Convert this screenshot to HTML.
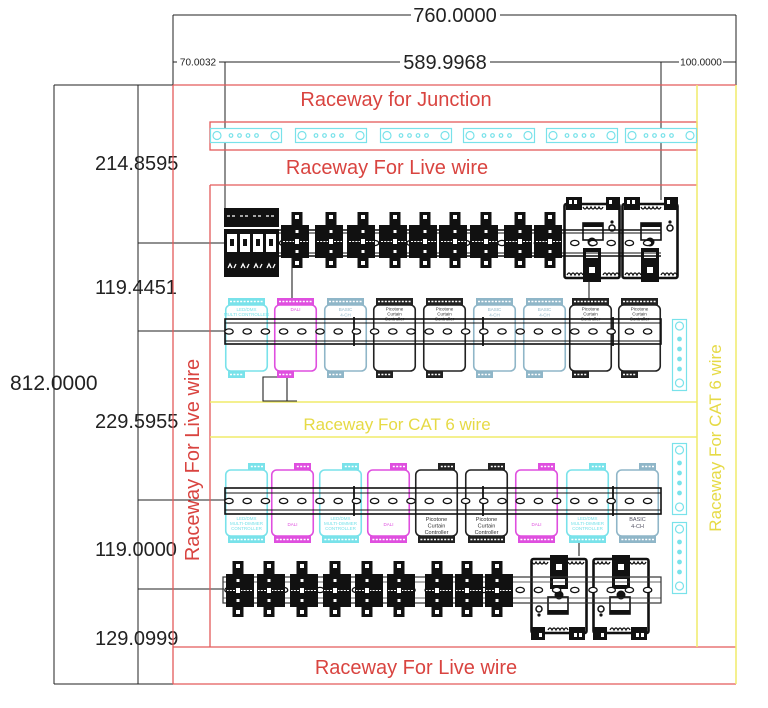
<!DOCTYPE html>
<html><head><meta charset="utf-8">
<style>
html,body{margin:0;padding:0;background:#fff;}
svg{display:block;}
text{font-family:"Liberation Sans",Arial,sans-serif;}
</style></head><body>
<svg width="768" height="708" viewBox="0 0 768 708" xmlns="http://www.w3.org/2000/svg">
<defs>
 <g id="brk">
  <rect x="-5.5" y="0" width="11" height="56" fill="#111"/>
  <rect x="-16" y="13" width="28" height="33" fill="#111"/>
  <rect x="-2" y="3" width="4" height="4" fill="#fff"/>
  <rect x="-2" y="49" width="4" height="4" fill="#fff"/>
  <rect x="-1.5" y="18" width="3" height="3" fill="#fff"/>
  <rect x="-1.5" y="38" width="3" height="3" fill="#fff"/>
  <path d="M-14 29.5h11M3 29.5h8" stroke="#fff" stroke-width="1" stroke-dasharray="2 1.2"/>
  <rect x="-2" y="27" width="4" height="5" fill="#fff"/>
 </g>
 <g id="psu">
  <rect x="1.5" y="7" width="55" height="74" rx="2" fill="#fff" stroke="#111" stroke-width="2.6"/>
  <rect x="3" y="0" width="16" height="13" fill="#111"/>
  <rect x="43" y="0" width="14" height="13" fill="#111"/>
  <rect x="6" y="3" width="3" height="4" fill="#fff"/>
  <rect x="11" y="3" width="3" height="4" fill="#fff"/>
  <rect x="46" y="3" width="3" height="4" fill="#fff"/>
  <path d="M20 10q2 4 4 0q2 4 4 0q2 4 4 0q2 4 4 0q2 4 4 0" fill="none" stroke="#111" stroke-width="1.3"/>
  <circle cx="49" cy="25" r="1.6" fill="#111"/>
  <circle cx="49" cy="31" r="3" fill="none" stroke="#111" stroke-width="1.5"/>
  <rect x="20" y="26" width="20" height="17" fill="#fff" stroke="#111" stroke-width="1.6"/>
  <rect x="20" y="26" width="20" height="4" fill="#111"/>
  <circle cx="29" cy="45" r="4.5" fill="#111"/>
  <rect x="20" y="51" width="18" height="34" fill="#111"/>
  <rect x="23" y="55" width="12" height="6" fill="#fff"/>
  <rect x="26" y="70" width="6" height="6" fill="#fff"/>
  <path d="M4 78q2 -4 4 0q2 -4 4 0q2 -4 4 0q2 -4 4 0M40 78q2 -4 4 0q2 -4 4 0q2 -4 4 0q2 -4 4 0" fill="none" stroke="#111" stroke-width="1.3"/>
 </g>
 <g id="mod">
  <rect x="0.75" y="7" width="41.5" height="66" rx="5" fill="#fff" stroke="currentColor" stroke-width="1.6"/>
  <rect x="3" y="0" width="37" height="7" fill="currentColor"/>
  <path d="M5 3.5h33" stroke="#fff" stroke-width="1.4" stroke-dasharray="2 1.4"/>
  <rect x="3" y="73" width="17" height="7" fill="currentColor"/>
  <path d="M5 76.5h13" stroke="#fff" stroke-width="1.4" stroke-dasharray="2 1.4"/>
 </g>
 <g id="ovals" fill="#fff" stroke="#111" stroke-width="1.3">
  <ellipse cx="229" cy="0" rx="4.2" ry="2.6"/><ellipse cx="247.2" cy="0" rx="4.2" ry="2.6"/>
  <ellipse cx="265.4" cy="0" rx="4.2" ry="2.6"/><ellipse cx="283.6" cy="0" rx="4.2" ry="2.6"/>
  <ellipse cx="301.8" cy="0" rx="4.2" ry="2.6"/><ellipse cx="320" cy="0" rx="4.2" ry="2.6"/>
  <ellipse cx="338.2" cy="0" rx="4.2" ry="2.6"/><ellipse cx="356.4" cy="0" rx="4.2" ry="2.6"/>
  <ellipse cx="374.6" cy="0" rx="4.2" ry="2.6"/><ellipse cx="392.8" cy="0" rx="4.2" ry="2.6"/>
  <ellipse cx="411" cy="0" rx="4.2" ry="2.6"/><ellipse cx="429.2" cy="0" rx="4.2" ry="2.6"/>
  <ellipse cx="447.4" cy="0" rx="4.2" ry="2.6"/><ellipse cx="465.6" cy="0" rx="4.2" ry="2.6"/>
  <ellipse cx="483.8" cy="0" rx="4.2" ry="2.6"/><ellipse cx="502" cy="0" rx="4.2" ry="2.6"/>
  <ellipse cx="520.2" cy="0" rx="4.2" ry="2.6"/><ellipse cx="538.4" cy="0" rx="4.2" ry="2.6"/>
  <ellipse cx="556.6" cy="0" rx="4.2" ry="2.6"/><ellipse cx="574.8" cy="0" rx="4.2" ry="2.6"/>
  <ellipse cx="593" cy="0" rx="4.2" ry="2.6"/><ellipse cx="611.2" cy="0" rx="4.2" ry="2.6"/>
  <ellipse cx="629.4" cy="0" rx="4.2" ry="2.6"/><ellipse cx="647.6" cy="0" rx="4.2" ry="2.6"/>
 </g>
 <g id="hs" fill="none" stroke="#79e2ea" stroke-width="1.2">
  <rect x="0.5" y="0.5" width="71" height="14" fill="#fff"/>
  <circle cx="7" cy="7.5" r="4"/><circle cx="65" cy="7.5" r="4"/>
  <circle cx="21" cy="7.5" r="1.8"/><circle cx="29.5" cy="7.5" r="1.8"/>
  <circle cx="38" cy="7.5" r="1.8"/><circle cx="46.5" cy="7.5" r="1.8"/>
 </g>
 <g id="vs" fill="none" stroke="#79e2ea" stroke-width="1.2">
  <rect x="0.5" y="0.5" width="14" height="71" fill="#fff"/>
  <circle cx="7.5" cy="7" r="4"/><circle cx="7.5" cy="64" r="4"/>
  <circle cx="7.5" cy="20" r="1.8" fill="#79e2ea"/><circle cx="7.5" cy="30" r="1.8" fill="#79e2ea"/>
  <circle cx="7.5" cy="40" r="1.8" fill="#79e2ea"/><circle cx="7.5" cy="50" r="1.8" fill="#79e2ea"/>
 </g>
</defs>

<!-- ===== Dimension lines ===== -->
<g stroke="#222" stroke-width="1" fill="none">
 <path d="M173 15H736M173 15V85M736 15V85"/>
 <path d="M173 62H736"/>
 <path d="M225 62V210M661 62V200"/>
 <path d="M54 85H173M54 85V684M54 684H173M138 85V684"/>
 <path d="M138 243H226M138 331H226M138 500H226M138 589H224"/>
</g>
<rect x="411" y="4" width="89" height="22" fill="#fff"/>
<rect x="400" y="51" width="90" height="22" fill="#fff"/>
<rect x="177" y="57" width="42" height="11" fill="#fff"/>
<rect x="679" y="57" width="44" height="11" fill="#fff"/>
<g fill="#222">
 <text x="455" y="22" font-size="20" text-anchor="middle">760.0000</text>
 <text x="445" y="69" font-size="20" text-anchor="middle">589.9968</text>
 <text x="198" y="65.5" font-size="10" text-anchor="middle">70.0032</text>
 <text x="701" y="65.5" font-size="10" text-anchor="middle">100.0000</text>
 <text x="10" y="390" font-size="21">812.0000</text>
 <text x="95" y="170" font-size="20">214.8595</text>
 <text x="95" y="294" font-size="20">119.4451</text>
 <text x="95" y="428" font-size="20">229.5955</text>
 <text x="95" y="556" font-size="20">119.0000</text>
 <text x="95" y="645" font-size="20">129.0999</text>
</g>

<!-- ===== Raceways ===== -->
<g stroke="#e35a5a" stroke-width="1.3" fill="none">
 <path d="M173 85H736M173 85V684M173 684H736M173 647H736"/>
 <path d="M210 185H697M210 185V647"/>
 <rect x="210" y="122" width="487" height="28"/>
</g>
<g stroke="#f1ec6a" stroke-width="1.5" fill="none">
 <path d="M697 85V647M736 85V684"/>
 <path d="M210 402H697M210 437H697"/>
</g>
<g fill="#d94440" font-size="20" text-anchor="middle">
 <text x="396" y="106">Raceway for Junction</text>
 <text x="387" y="174">Raceway For Live wire</text>
 <text x="416" y="674">Raceway For Live wire</text>
 <text transform="translate(199,460) rotate(-90)" x="0" y="0">Raceway For Live wire</text>
</g>
<g fill="#e6da45" font-size="17" text-anchor="middle">
 <text x="397" y="430">Raceway For CAT 6 wire</text>
 <text transform="translate(721,438) rotate(-90)" x="0" y="0">Raceway For CAT 6 wire</text>
</g>

<!-- junction strips -->
<use href="#hs" x="210" y="128"/>
<use href="#hs" x="295" y="128"/>
<use href="#hs" x="380" y="128"/>
<use href="#hs" x="463" y="128"/>
<use href="#hs" x="546" y="128"/>
<use href="#hs" x="625" y="128"/>

<!-- ===== Row 1 ===== -->
<use href="#psu" x="563" y="197"/>
<use href="#psu" x="621" y="197"/>
<g stroke="#111" fill="none">
 <path d="M279 230H661M279 256H661" stroke-width="1.4"/>
 <path d="M279 233H661M279 253H661" stroke-width="0.9"/>
</g>
<use href="#ovals" x="0" y="243"/>
<use href="#brk" x="297" y="212"/>
<use href="#brk" x="331" y="212"/>
<use href="#brk" x="363" y="212"/>
<use href="#brk" x="395" y="212"/>
<use href="#brk" x="425" y="212"/>
<use href="#brk" x="455" y="212"/>
<use href="#brk" x="486" y="212"/>
<use href="#brk" x="520" y="212"/>
<use href="#brk" x="550" y="212"/>
<!-- 4-pole MCB -->
<rect x="224" y="208" width="55" height="69" fill="#111"/>
<g fill="#fff">
 <rect x="227" y="234" width="10" height="18"/><rect x="240" y="234" width="10" height="18"/>
 <rect x="253" y="234" width="10" height="18"/><rect x="266" y="234" width="10" height="18"/>
</g>
<g fill="#111">
 <rect x="230" y="239" width="4" height="7"/><rect x="243" y="239" width="4" height="7"/>
 <rect x="256" y="239" width="4" height="7"/><rect x="269" y="239" width="4" height="7"/>
</g>
<path d="M227 216h3M232 216h3M240 216h3M245 216h3M253 216h3M258 216h3M266 216h3M271 216h3M228 268l2 -4l2 4M234 268l2 -4M241 268l2 -4l2 4M247 268l2 -4M254 268l2 -4l2 4M260 268l2 -4M267 268l2 -4l2 4M273 268l2 -4" stroke="#fff" stroke-width="1.3" fill="none"/>
<rect x="224" y="227" width="55" height="2" fill="#fff"/>

<!-- connectors -->
<g stroke="#222" stroke-width="1.1" fill="none">
 <path d="M292 258V299M589 281V299M579 543V556"/>
 <path d="M263 377H287V401H263ZM287 401H297"/>
</g>

<!-- ===== Row 2 modules ===== -->
<use href="#mod" x="225" y="298" color="#79e2ea"/>
<use href="#mod" x="274" y="298" color="#df4fdf"/>
<use href="#mod" x="324" y="298" color="#8fb6c8"/>
<use href="#mod" x="373" y="298" color="#222"/>
<use href="#mod" x="423" y="298" color="#222"/>
<use href="#mod" x="473" y="298" color="#8fb6c8"/>
<use href="#mod" x="523" y="298" color="#8fb6c8"/>
<use href="#mod" x="569" y="298" color="#222"/>
<use href="#mod" x="618" y="298" color="#222"/>
<g font-size="4.5" text-anchor="middle">
 <text x="246.5" y="311" fill="#79e2ea">LED/DMX</text><text x="246.5" y="316" fill="#79e2ea">MULTI CONTROLLER</text>
 <text x="295.5" y="311" fill="#df4fdf">DALI</text>
 <text x="345.5" y="311" fill="#8fb6c8">BASIC</text><text x="345.5" y="316.5" fill="#8fb6c8">4-CH</text>
 <text x="394.5" y="310.5" fill="#333">Picotone</text><text x="394.5" y="315.5" fill="#333">Curtain</text><text x="394.5" y="320.5" fill="#333">Controller</text>
 <text x="444.5" y="310.5" fill="#333">Picotone</text><text x="444.5" y="315.5" fill="#333">Curtain</text><text x="444.5" y="320.5" fill="#333">Controller</text>
 <text x="494.5" y="311" fill="#8fb6c8">BASIC</text><text x="494.5" y="316.5" fill="#8fb6c8">4-CH</text>
 <text x="544.5" y="311" fill="#8fb6c8">BASIC</text><text x="544.5" y="316.5" fill="#8fb6c8">4-CH</text>
 <text x="590.5" y="310.5" fill="#333">Picotone</text><text x="590.5" y="315.5" fill="#333">Curtain</text><text x="590.5" y="320.5" fill="#333">Controller</text>
 <text x="639.5" y="310.5" fill="#333">Picotone</text><text x="639.5" y="315.5" fill="#333">Curtain</text><text x="639.5" y="320.5" fill="#333">Controller</text>
</g>
<!-- Row 2 rail -->
<g stroke="#111" fill="none">
 <rect x="225" y="319" width="436" height="25" stroke-width="1.6"/>
 <path d="M225 323H661M225 341H661" stroke-width="1"/>
 <path d="M354 317V346M483 317V346M613 317V346" stroke-width="1.8"/>
</g>
<use href="#ovals" x="0" y="331.5"/>
<use href="#vs" x="672" y="319"/>

<!-- ===== Row 3 modules ===== -->
<use href="#mod" transform="translate(268,543) rotate(180)" color="#79e2ea"/>
<use href="#mod" transform="translate(314,543) rotate(180)" color="#df4fdf"/>
<use href="#mod" transform="translate(362,543) rotate(180)" color="#79e2ea"/>
<use href="#mod" transform="translate(410,543) rotate(180)" color="#df4fdf"/>
<use href="#mod" transform="translate(458,543) rotate(180)" color="#222"/>
<use href="#mod" transform="translate(508,543) rotate(180)" color="#222"/>
<use href="#mod" transform="translate(558,543) rotate(180)" color="#df4fdf"/>
<use href="#mod" transform="translate(609,543) rotate(180)" color="#79e2ea"/>
<use href="#mod" transform="translate(659,543) rotate(180)" color="#8fb6c8"/>
<g font-size="4.5" text-anchor="middle">
 <text x="246.5" y="520" fill="#79e2ea">LED/DMX</text><text x="246.5" y="525" fill="#79e2ea">MULTI-DIMMER</text><text x="246.5" y="530" fill="#79e2ea">CONTROLLER</text>
 <text x="292.5" y="526" fill="#df4fdf">DALI</text>
 <text x="340.5" y="520" fill="#79e2ea">LED/DMX</text><text x="340.5" y="525" fill="#79e2ea">MULTI-DIMMER</text><text x="340.5" y="530" fill="#79e2ea">CONTROLLER</text>
 <text x="388.5" y="526" fill="#df4fdf">DALI</text>
 <text x="536.5" y="526" fill="#df4fdf">DALI</text>
 <text x="587.5" y="520" fill="#79e2ea">LED/DMX</text><text x="587.5" y="525" fill="#79e2ea">MULTI-DIMMER</text><text x="587.5" y="530" fill="#79e2ea">CONTROLLER</text>
</g>
<g font-size="5.5" text-anchor="middle" fill="#333">
 <text x="436.5" y="521">Picotone</text><text x="436.5" y="527.5">Curtain</text><text x="436.5" y="534">Controller</text>
 <text x="486.5" y="521">Picotone</text><text x="486.5" y="527.5">Curtain</text><text x="486.5" y="534">Controller</text>
 <text x="637.5" y="521" fill="#556">BASIC</text><text x="637.5" y="528" fill="#556">4-CH</text>
</g>
<!-- Row 3 rail -->
<g stroke="#111" fill="none">
 <rect x="225" y="488" width="436" height="26" stroke-width="1.6"/>
 <path d="M225 493H661M225 510H661" stroke-width="1"/>
 <path d="M354 486V516M483 486V516M613 486V516" stroke-width="1.8"/>
</g>
<use href="#ovals" x="0" y="501"/>
<use href="#vs" x="672" y="443"/>
<use href="#vs" x="672" y="522"/>

<!-- ===== Row 4 ===== -->
<use href="#psu" transform="translate(588,640) scale(-1,-1)"/>
<use href="#psu" transform="translate(650,640) scale(-1,-1)"/>
<g stroke="#333" fill="none">
 <rect x="223" y="577" width="438" height="26" stroke-width="1.2"/>
 <path d="M223 582H661M223 598H661" stroke-width="0.8"/>
</g>
<use href="#ovals" x="0" y="590"/>
<use href="#brk" transform="translate(238,561) scale(-1,1)"/>
<use href="#brk" transform="translate(269,561) scale(-1,1)"/>
<use href="#brk" transform="translate(302,561) scale(-1,1)"/>
<use href="#brk" transform="translate(335,561) scale(-1,1)"/>
<use href="#brk" transform="translate(367,561) scale(-1,1)"/>
<use href="#brk" transform="translate(399,561) scale(-1,1)"/>
<use href="#brk" transform="translate(437,561) scale(-1,1)"/>
<use href="#brk" transform="translate(467,561) scale(-1,1)"/>
<use href="#brk" transform="translate(497,561) scale(-1,1)"/>
</svg>
</body></html>
